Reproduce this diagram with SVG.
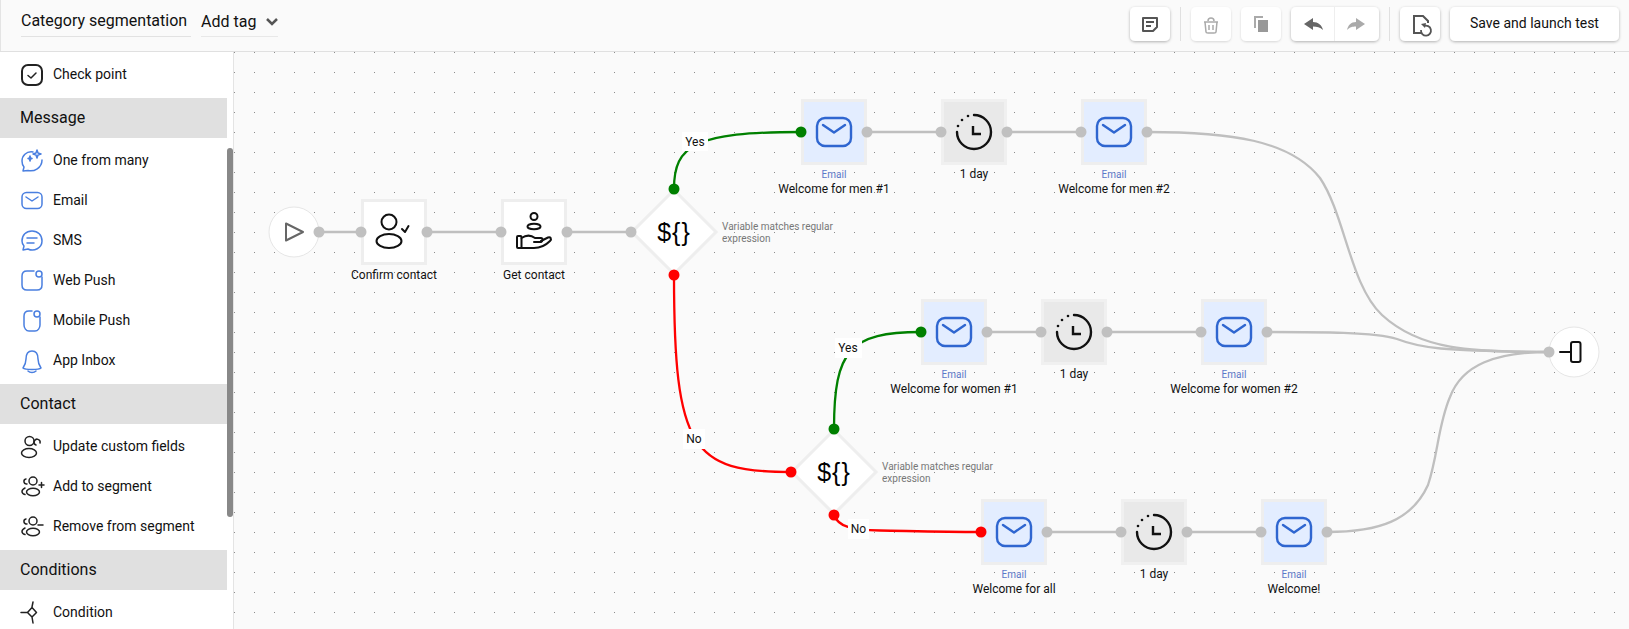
<svg xmlns="http://www.w3.org/2000/svg" width="1629" height="629" viewBox="0 0 1629 629">
<style>
text{font-family:Roboto,"Liberation Sans",sans-serif;fill:#111}
.side{font-size:14px}
.sec{font-size:16px}
.lbl{font-size:12px;text-anchor:middle}
.typ{font-size:10px;text-anchor:middle;fill:#5b79c9}
.var{font-size:10px;fill:#777}
.cl{font-size:12px;text-anchor:middle}
.sym{font-size:25px;text-anchor:middle;fill:#000;font-family:"Liberation Sans",sans-serif;letter-spacing:1px}
.gl{fill:none;stroke:#bfbfbf;stroke-width:2.300}
.gr{fill:none;stroke:#008000;stroke-width:2.300}
.rd{fill:none;stroke:#ff0000;stroke-width:2.300}
.pg{fill:#c0c0c0}.pe{fill:#008000}.pr{fill:#ff0000}
.box{fill:#fff;stroke:#eee;stroke-width:3}
.mail{fill:#e3edff;stroke:#eee;stroke-width:3}
.wait{fill:#e9e9e9;stroke:#f0f0f0;stroke-width:3}
.circ{fill:#fff;stroke:#e6e6e6;stroke-width:1}
.ic{fill:none;stroke:#111;stroke-width:2;stroke-linecap:round;stroke-linejoin:round}
.si{fill:none;stroke:#222;stroke-width:1.500;stroke-linecap:round;stroke-linejoin:round}
.bi{fill:none;stroke:#4a7fe0;stroke-width:1.500;stroke-linecap:round;stroke-linejoin:round}
.btn{fill:#fff;filter:url(#sh)}
.btnd{fill:#fff;filter:url(#shl)}
.bar{fill:#e0e0e0}
</style>
<defs>
<pattern id="dots" x="234" y="52" width="20" height="20" patternUnits="userSpaceOnUse"><rect width="1" height="1" fill="#8c8c8c"/></pattern>
<filter id="sh" x="-30%" y="-30%" width="160%" height="170%"><feDropShadow dx="0" dy="1" stdDeviation="1.5" flood-color="#000" flood-opacity=".3"/></filter>
<filter id="shl" x="-30%" y="-30%" width="160%" height="170%"><feDropShadow dx="0" dy="1" stdDeviation="1.2" flood-color="#000" flood-opacity=".14"/></filter>
<symbol id="env" overflow="visible"><rect x="-17" y="-14" width="34" height="28" rx="8" fill="none" stroke="#2f66d0" stroke-width="2.400"/><path d="M-11 -7 L0 0.500 L11 -7" fill="none" stroke="#2f66d0" stroke-width="2.400" stroke-linecap="round" stroke-linejoin="round"/></symbol>
<symbol id="clk" overflow="visible"><path d="M0 -17 A17 17 0 1 1 -17 0" fill="none" stroke="#111" stroke-width="2.400" stroke-linecap="round"/><circle cx="-16" cy="-6" r="1.300" fill="#111"/><circle cx="-12" cy="-12" r="1.300" fill="#111"/><circle cx="-6" cy="-16" r="1.300" fill="#111"/><path d="M-1 -6 V2 H7" fill="none" stroke="#111" stroke-width="2.400"/></symbol>
</defs>

<rect width="1629" height="629" fill="#fafafa"/>
<rect x="234" y="52" width="1395" height="577" fill="url(#dots)"/>

<g id="connectors">
<path class="gl" d="M319 232H361M427 232H501M567 232H631"/>
<path class="gr" d="M674 189C674 145 695 132 801 132"/>
<path class="rd" d="M674 275C674 450 692 472 791 472"/>
<path class="gl" d="M867 132H941M1007 132H1081"/>
<path class="gl" d="M1147 132C1230 132 1290 140 1320 178C1345 215 1350 285 1382 315C1420 350 1470 352 1549 352"/>
<path class="gr" d="M834 429C834 350 850 332 921 332"/>
<path class="rd" d="M834 515C838 526 850 530 880 530.500C910 531 940 532 981 532"/>
<path class="gl" d="M987 332H1041M1107 332H1201"/>
<path class="gl" d="M1267 332C1320 332 1375 332 1397 339C1420 348 1440 351 1549 352"/>
<path class="gl" d="M1047 532H1121M1187 532H1261"/>
<path class="gl" d="M1327 532C1380 532 1412 520 1428 485C1438 455 1438 425 1450 397C1462 365 1495 352 1549 352"/>
<rect x="682" y="132" width="26" height="19" fill="#fff"/><text class="cl" x="695" y="146">Yes</text>
<rect x="683" y="429" width="22" height="20" fill="#fff"/><text class="cl" x="694" y="443">No</text>
<rect x="835" y="338" width="27" height="20" fill="#fff"/><text class="cl" x="848" y="352">Yes</text>
<rect x="848" y="519" width="21" height="20" fill="#fff"/><text class="cl" x="858.500" y="533">No</text>
</g>

<g id="node-start"><circle class="circ" cx="294" cy="232" r="25"/><path d="M286 223.500L303 232L286 240.500Z" fill="none" stroke="#666" stroke-width="2" stroke-linejoin="round"/></g>
<g id="node-confirm"><rect class="box" x="362.500" y="200.500" width="63" height="63"/><circle class="ic" cx="389" cy="222" r="7.500"/><ellipse class="ic" cx="389" cy="241" rx="12.500" ry="7"/><path class="ic" d="M402 229L405 232L408.500 226"/><text class="lbl" x="394" y="279">Confirm contact</text></g>
<g id="node-get"><rect class="box" x="502.500" y="200.500" width="63" height="63"/><circle class="ic" cx="534" cy="216.500" r="3.500"/><ellipse class="ic" cx="534" cy="226.500" rx="6.500" ry="2.800"/><rect class="ic" x="517" y="236" width="4.500" height="12" rx="1"/><path class="ic" d="M521.500 238C526 235 531 235 535 238H541C543 238 543 241 541 242H534M541 241L548 237.500C550.500 236.500 552 239 550 241C546 245 540 248 534 248H521.500"/><text class="lbl" x="534" y="279">Get contact</text></g>
<g id="node-var1"><path class="box" d="M674 190L716 232L674 274L632 232Z"/><text class="sym" x="674" y="241">${}</text><text class="var" x="722" y="230">Variable matches regular</text><text class="var" x="722" y="242">expression</text></g>
<g id="node-mail-men1"><rect class="mail" x="802.500" y="100.500" width="63" height="63"/><use href="#env" x="834" y="132"/><text class="typ" x="834" y="178">Email</text><text class="lbl" x="834" y="193">Welcome for men #1</text></g>
<g id="node-wait1"><rect class="wait" x="942.500" y="100.500" width="63" height="63"/><use href="#clk" x="974" y="132"/><text class="lbl" x="974" y="178">1 day</text></g>
<g id="node-mail-men2"><rect class="mail" x="1082.500" y="100.500" width="63" height="63"/><use href="#env" x="1114" y="132"/><text class="typ" x="1114" y="178">Email</text><text class="lbl" x="1114" y="193">Welcome for men #2</text></g>
<g id="node-var2"><path class="box" d="M834 430L876 472L834 514L792 472Z"/><text class="sym" x="834" y="481">${}</text><text class="var" x="882" y="470">Variable matches regular</text><text class="var" x="882" y="482">expression</text></g>
<g id="node-mail-women1"><rect class="mail" x="922.500" y="300.500" width="63" height="63"/><use href="#env" x="954" y="332"/><text class="typ" x="954" y="378">Email</text><text class="lbl" x="954" y="393">Welcome for women #1</text></g>
<g id="node-wait2"><rect class="wait" x="1042.500" y="300.500" width="63" height="63"/><use href="#clk" x="1074" y="332"/><text class="lbl" x="1074" y="378">1 day</text></g>
<g id="node-mail-women2"><rect class="mail" x="1202.500" y="300.500" width="63" height="63"/><use href="#env" x="1234" y="332"/><text class="typ" x="1234" y="378">Email</text><text class="lbl" x="1234" y="393">Welcome for women #2</text></g>
<g id="node-mail-all"><rect class="mail" x="982.500" y="500.500" width="63" height="63"/><use href="#env" x="1014" y="532"/><text class="typ" x="1014" y="578">Email</text><text class="lbl" x="1014" y="593">Welcome for all</text></g>
<g id="node-wait3"><rect class="wait" x="1122.500" y="500.500" width="63" height="63"/><use href="#clk" x="1154" y="532"/><text class="lbl" x="1154" y="578">1 day</text></g>
<g id="node-mail-welcome"><rect class="mail" x="1262.500" y="500.500" width="63" height="63"/><use href="#env" x="1294" y="532"/><text class="typ" x="1294" y="578">Email</text><text class="lbl" x="1294" y="593">Welcome!</text></g>
<g id="node-end"><circle class="circ" cx="1574" cy="352" r="25"/><path class="ic" d="M1560 352H1571"/><rect class="ic" x="1571" y="342" width="9.500" height="20" rx="2"/></g>

<g id="ports">
<g class="pg"><circle cx="319" cy="232" r="5.500"/><circle cx="361" cy="232" r="5.500"/><circle cx="427" cy="232" r="5.500"/><circle cx="501" cy="232" r="5.500"/><circle cx="567" cy="232" r="5.500"/><circle cx="631" cy="232" r="5.500"/><circle cx="867" cy="132" r="5.500"/><circle cx="941" cy="132" r="5.500"/><circle cx="1007" cy="132" r="5.500"/><circle cx="1081" cy="132" r="5.500"/><circle cx="1147" cy="132" r="5.500"/><circle cx="987" cy="332" r="5.500"/><circle cx="1041" cy="332" r="5.500"/><circle cx="1107" cy="332" r="5.500"/><circle cx="1201" cy="332" r="5.500"/><circle cx="1267" cy="332" r="5.500"/><circle cx="1047" cy="532" r="5.500"/><circle cx="1121" cy="532" r="5.500"/><circle cx="1187" cy="532" r="5.500"/><circle cx="1261" cy="532" r="5.500"/><circle cx="1327" cy="532" r="5.500"/><circle cx="1549" cy="352" r="5.500"/></g>
<g class="pe"><circle cx="674" cy="189" r="5.500"/><circle cx="801" cy="132" r="5.500"/><circle cx="834" cy="429" r="5.500"/><circle cx="921" cy="332" r="5.500"/></g>
<g class="pr"><circle cx="674" cy="275" r="5.500"/><circle cx="791" cy="472" r="5.500"/><circle cx="834" cy="515" r="5.500"/><circle cx="981" cy="532" r="5.500"/></g>
</g>

<g id="sidebar">
<rect x="0" y="52" width="233" height="577" fill="#fff"/>
<rect x="233" y="52" width="1" height="577" fill="#e4e4e4"/>
<rect class="bar" x="0" y="98" width="227" height="40"/>
<rect class="bar" x="0" y="384" width="227" height="40"/>
<rect class="bar" x="0" y="550" width="227" height="40"/>
<rect x="227" y="148" width="6" height="369" rx="3" fill="#888"/>
<rect class="si" style="stroke-width:2" x="22" y="65" width="20" height="20" rx="6"/><path class="si" d="M28 75.500L31 78L36 73"/>
<text class="side" x="53" y="79">Check point</text>
<text class="sec" x="20" y="123">Message</text>
<path class="bi" d="M33 152C26 151 22 156 22 161C22 164 23 166 24 167L23 171L28 170.500C34 172 42 168 42 160"/><path class="bi" d="M37 150L38 153L41 154L38 155L37 158L36 155L33 154L36 153ZM30 156L30.500 158L32 158.500L30.500 159L30 161L29.500 159L28 158.500L29.500 158Z"/>
<text class="side" x="53" y="165">One from many</text>
<rect class="bi" x="22" y="192.500" width="20" height="16" rx="4.500"/><path class="bi" d="M26 197L32 201L38 197"/>
<text class="side" x="53" y="205">Email</text>
<path class="bi" d="M32 231C26 231 22 235 22 241C22 243 23 245 24 246L23 250L28 249C34 252 42 248 42 241C42 235 38 231 32 231Z"/><path class="bi" d="M27 238H37M27 243H34"/>
<text class="side" x="53" y="245">SMS</text>
<path class="bi" d="M34 271H27C24 271 22 273 22 276V285C22 288 24 290 27 290H37C40 290 42 288 42 285V277"/><circle class="bi" cx="39" cy="274" r="3"/>
<text class="side" x="53" y="285">Web Push</text>
<path class="bi" d="M32 311H29C26 311 24 313 24 316V325C24 328 26 331 29 331H35C38 331 40 328 40 325V317"/><circle class="bi" cx="37" cy="314" r="3"/>
<text class="side" x="53" y="325">Mobile Push</text>
<path class="bi" d="M32 351C27 351 26 355 26 359C26 363 25 365 23 368C25 370 39 370 41 368C39 365 38 363 38 359C38 355 37 351 32 351Z"/><path class="bi" d="M28 371C30 373 34 373 36 371"/>
<text class="side" x="53" y="365">App Inbox</text>
<text class="sec" x="20" y="409">Contact</text>
<circle class="si" cx="29.500" cy="441" r="4.500"/><ellipse class="si" cx="29" cy="453" rx="7.500" ry="4.500"/><path class="si" d="M36 445A3 3 0 1 1 40 443"/>
<text class="side" x="53" y="451">Update custom fields</text>
<circle class="si" cx="33" cy="481" r="4"/><ellipse class="si" cx="33" cy="492" rx="6.500" ry="3.800"/><path class="si" d="M26 479A2.500 2.500 0 0 0 27 484M25 488C23 489 22 490 22 491.500C22 493 23 494 25 494.500M39 485H44M41.500 482.500V487.500"/>
<text class="side" x="53" y="491">Add to segment</text>
<circle class="si" cx="33" cy="521" r="4"/><ellipse class="si" cx="33" cy="532" rx="6.500" ry="3.800"/><path class="si" d="M26 519A2.500 2.500 0 0 0 27 524M25 528C23 529 22 530 22 531.500C22 533 23 534 25 534.500M38 525H43"/>
<text class="side" x="53" y="531">Remove from segment</text>
<text class="sec" x="20" y="575">Conditions</text>
<path class="si" d="M32 607.500L36.500 612.500L32 617L27.500 612.500ZM21 612.500H27M33 602L32 607M32 617L33 623"/>
<text class="side" x="53" y="617">Condition</text>
</g>

<g id="header">
<rect x="0" y="0" width="1629" height="51" fill="#fafafa"/>
<rect x="0" y="51" width="1629" height="1" fill="#e0e0e0"/>
<rect x="0" y="0" width="1" height="51" fill="#e4e4e4"/>
<text class="sec" x="21" y="26">Category segmentation</text>
<rect x="21" y="36" width="170" height="1" fill="#e2e2e2"/>
<text class="sec" x="201" y="27">Add tag</text>
<rect x="201" y="36" width="77" height="1" fill="#e8e8e8"/>
<path d="M267 19L272 24L277 19" fill="none" stroke="#555" stroke-width="2.500"/>
<rect class="btn" x="1130" y="7" width="40" height="34" rx="5"/>
<path d="M1143 18H1157V27L1153 31H1143Z" fill="none" stroke="#555" stroke-width="2" stroke-linejoin="round"/><path d="M1146 22H1154M1146 26H1151" stroke="#555" stroke-width="2"/>
<rect x="1180" y="7" width="1" height="34" fill="#e0e0e0"/>
<rect class="btnd" x="1191" y="7" width="40" height="34" rx="5"/>
<path d="M1204 22H1218M1205 22L1206 32C1206 33 1207 33 1208 33H1214C1215 33 1216 33 1216 32L1217 22M1208 21C1208 17 1214 17 1214 21M1209 25V30M1213 25V30" fill="none" stroke="#aaa" stroke-width="1.500"/>
<rect class="btnd" x="1241" y="7" width="40" height="34" rx="5"/>
<path d="M1254 16H1263V18H1256V28H1254Z" fill="#aaa"/><rect x="1258" y="20" width="10" height="12" fill="#999"/>
<rect class="btn" x="1291" y="7" width="88" height="34" rx="5"/>
<rect x="1334" y="7" width="1" height="34" fill="#eee"/>
<path d="M1304 24L1313 18V22C1318 22 1322 25 1323 30C1320 27 1317 26.500 1313 26.500V30Z" fill="#666"/>
<path d="M1365 24L1356 18V22C1351 22 1348 25 1347 30C1350 27 1352 26.500 1356 26.500V30Z" fill="#aaa"/>
<rect x="1389" y="7" width="1" height="34" fill="#e0e0e0"/>
<rect class="btn" x="1400" y="7" width="40" height="34" rx="5"/>
<path d="M1421 33H1414V16H1423L1428 21V23" fill="none" stroke="#555" stroke-width="2"/><path d="M1424 26A5 5 0 1 1 1421 30" fill="none" stroke="#555" stroke-width="1.800"/><path d="M1421 24L1426 23L1425 28Z" fill="#555"/>
<rect class="btn" x="1450" y="7" width="169" height="34" rx="5"/>
<text x="1534.500" y="28" font-size="14" text-anchor="middle">Save and launch test</text>
</g>
</svg>
